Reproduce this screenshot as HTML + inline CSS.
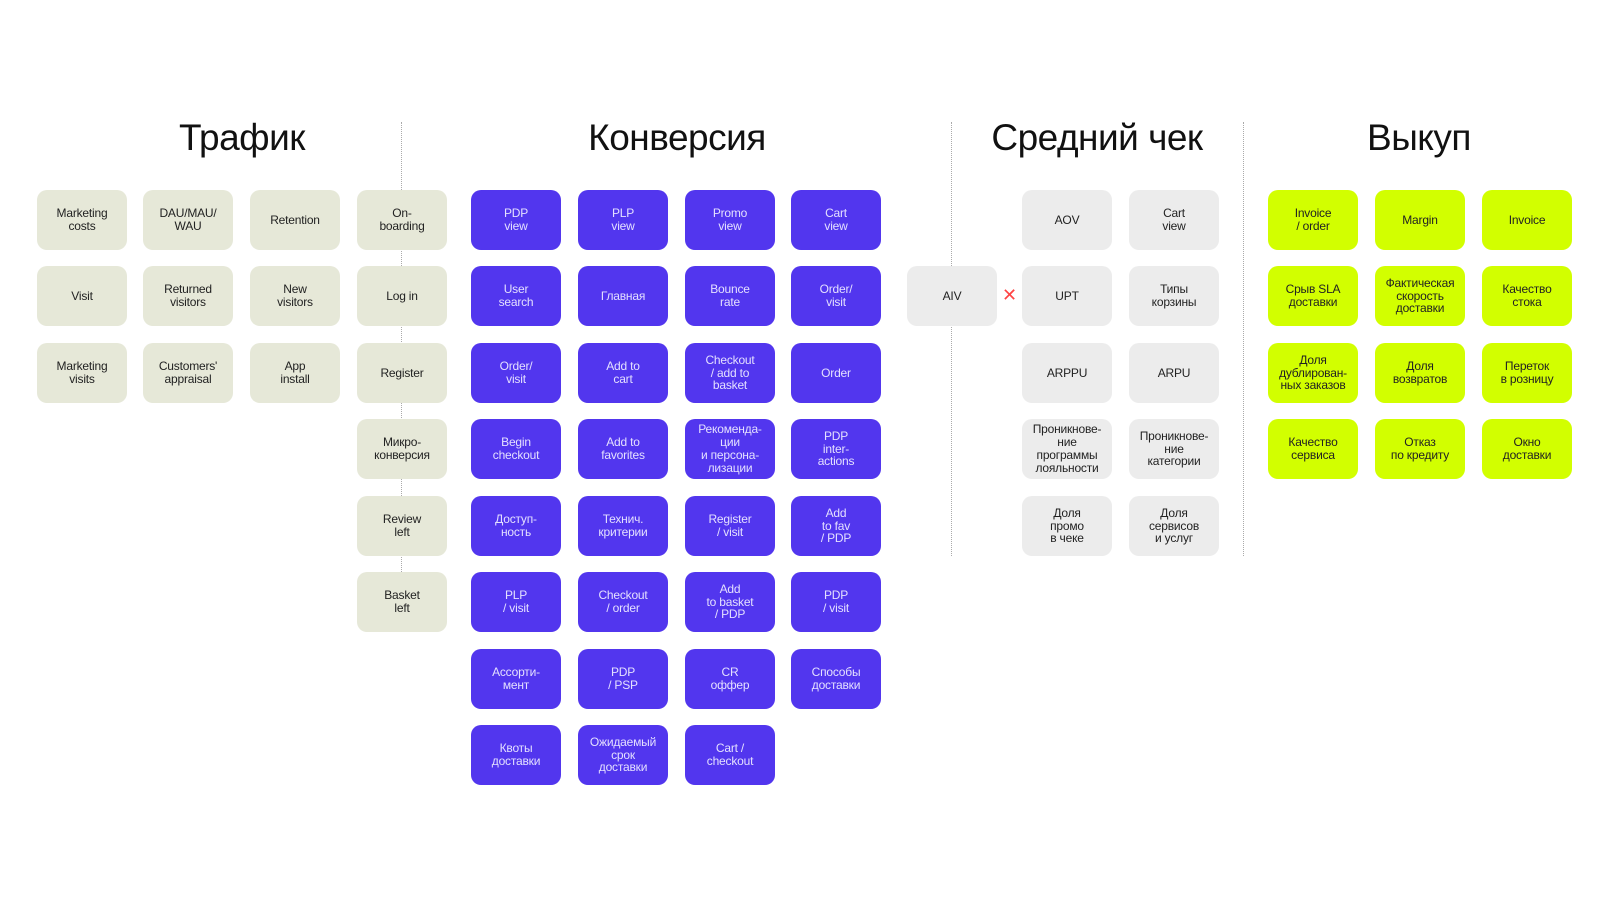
<!DOCTYPE html>
<html><head><meta charset="utf-8"><style>
body{margin:0;width:1600px;height:900px;background:#fff;position:relative;overflow:hidden;font-family:"Liberation Sans","Noto Sans CJK SC",sans-serif;}
.b{position:absolute;width:90px;height:60px;border-radius:10px;display:flex;align-items:center;justify-content:center;text-align:center;font-size:12px;line-height:12.8px;letter-spacing:-0.2px;}
.t{background:#e6e8d8;color:#222;}
.p{background:#5236ee;color:#e4e0ff;}
.g{background:#ececec;color:#222;}
.l{background:#d2ff00;color:#222;}
.h{position:absolute;top:117px;font-size:37px;color:#111;transform:translateX(-50%);white-space:nowrap;letter-spacing:-0.5px;}
.d{position:absolute;width:0;border-left:1.2px dotted #aaa;}
</style></head><body>
<div class="h" style="left:242px">Трафик</div>
<div class="h" style="left:677px">Конверсия</div>
<div class="h" style="left:1097px">Средний чек</div>
<div class="h" style="left:1419px">Выкуп</div>
<div class="d" style="left:401px;top:122px;height:510px"></div>
<div class="d" style="left:951px;top:122px;height:434px"></div>
<div class="d" style="left:1243px;top:122px;height:434px"></div>

<div class="b t" style="left:37px;top:190px">Marketing<br>costs</div>
<div class="b t" style="left:143px;top:190px">DAU/MAU/<br>WAU</div>
<div class="b t" style="left:250px;top:190px">Retention</div>
<div class="b t" style="left:357px;top:190px">On-<br>boarding</div>
<div class="b t" style="left:37px;top:266px">Visit</div>
<div class="b t" style="left:143px;top:266px">Returned<br>visitors</div>
<div class="b t" style="left:250px;top:266px">New<br>visitors</div>
<div class="b t" style="left:357px;top:266px">Log in</div>
<div class="b t" style="left:37px;top:343px">Marketing<br>visits</div>
<div class="b t" style="left:143px;top:343px">Customers'<br>appraisal</div>
<div class="b t" style="left:250px;top:343px">App<br>install</div>
<div class="b t" style="left:357px;top:343px">Register</div>
<div class="b t" style="left:357px;top:419px">Микро-<br>конверсия</div>
<div class="b t" style="left:357px;top:496px">Review<br>left</div>
<div class="b t" style="left:357px;top:572px">Basket<br>left</div>

<div class="b p" style="left:471px;top:190px">PDP<br>view</div>
<div class="b p" style="left:578px;top:190px">PLP<br>view</div>
<div class="b p" style="left:685px;top:190px">Promo<br>view</div>
<div class="b p" style="left:791px;top:190px">Cart<br>view</div>
<div class="b p" style="left:471px;top:266px">User<br>search</div>
<div class="b p" style="left:578px;top:266px">Главная</div>
<div class="b p" style="left:685px;top:266px">Bounce<br>rate</div>
<div class="b p" style="left:791px;top:266px">Order/<br>visit</div>
<div class="b p" style="left:471px;top:343px">Order/<br>visit</div>
<div class="b p" style="left:578px;top:343px">Add to<br>cart</div>
<div class="b p" style="left:685px;top:343px">Checkout<br>/ add to<br>basket</div>
<div class="b p" style="left:791px;top:343px">Order</div>
<div class="b p" style="left:471px;top:419px">Begin<br>checkout</div>
<div class="b p" style="left:578px;top:419px">Add to<br>favorites</div>
<div class="b p" style="left:685px;top:419px">Рекоменда-<br>ции<br>и персона-<br>лизации</div>
<div class="b p" style="left:791px;top:419px">PDP<br>inter-<br>actions</div>
<div class="b p" style="left:471px;top:496px">Доступ-<br>ность</div>
<div class="b p" style="left:578px;top:496px">Технич.<br>критерии</div>
<div class="b p" style="left:685px;top:496px">Register<br>/ visit</div>
<div class="b p" style="left:791px;top:496px">Add<br>to fav<br>/ PDP</div>
<div class="b p" style="left:471px;top:572px">PLP<br>/ visit</div>
<div class="b p" style="left:578px;top:572px">Checkout<br>/ order</div>
<div class="b p" style="left:685px;top:572px">Add<br>to basket<br>/ PDP</div>
<div class="b p" style="left:791px;top:572px">PDP<br>/ visit</div>
<div class="b p" style="left:471px;top:649px">Ассорти-<br>мент</div>
<div class="b p" style="left:578px;top:649px">PDP<br>/ PSP</div>
<div class="b p" style="left:685px;top:649px">CR<br>оффер</div>
<div class="b p" style="left:791px;top:649px">Способы<br>доставки</div>
<div class="b p" style="left:471px;top:725px">Квоты<br>доставки</div>
<div class="b p" style="left:578px;top:725px">Ожидаемый<br>срок<br>доставки</div>
<div class="b p" style="left:685px;top:725px">Cart /<br>checkout</div>

<div class="b g" style="left:907px;top:266px">AIV</div>
<div style="position:absolute;left:1002px;top:285px;font-size:18px;color:#f44;">✕</div>
<div class="b g" style="left:1022px;top:190px">AOV</div>
<div class="b g" style="left:1129px;top:190px">Cart<br>view</div>
<div class="b g" style="left:1022px;top:266px">UPT</div>
<div class="b g" style="left:1129px;top:266px">Типы<br>корзины</div>
<div class="b g" style="left:1022px;top:343px">ARPPU</div>
<div class="b g" style="left:1129px;top:343px">ARPU</div>
<div class="b g" style="left:1022px;top:419px">Проникнове-<br>ние<br>программы<br>лояльности</div>
<div class="b g" style="left:1129px;top:419px">Проникнове-<br>ние<br>категории</div>
<div class="b g" style="left:1022px;top:496px">Доля<br>промо<br>в чеке</div>
<div class="b g" style="left:1129px;top:496px">Доля<br>сервисов<br>и услуг</div>

<div class="b l" style="left:1268px;top:190px">Invoice<br>/ order</div>
<div class="b l" style="left:1375px;top:190px">Margin</div>
<div class="b l" style="left:1482px;top:190px">Invoice</div>
<div class="b l" style="left:1268px;top:266px">Срыв SLA<br>доставки</div>
<div class="b l" style="left:1375px;top:266px">Фактическая<br>скорость<br>доставки</div>
<div class="b l" style="left:1482px;top:266px">Качество<br>стока</div>
<div class="b l" style="left:1268px;top:343px">Доля<br>дублирован-<br>ных заказов</div>
<div class="b l" style="left:1375px;top:343px">Доля<br>возвратов</div>
<div class="b l" style="left:1482px;top:343px">Переток<br>в розницу</div>
<div class="b l" style="left:1268px;top:419px">Качество<br>сервиса</div>
<div class="b l" style="left:1375px;top:419px">Отказ<br>по кредиту</div>
<div class="b l" style="left:1482px;top:419px">Окно<br>доставки</div>
</body></html>
